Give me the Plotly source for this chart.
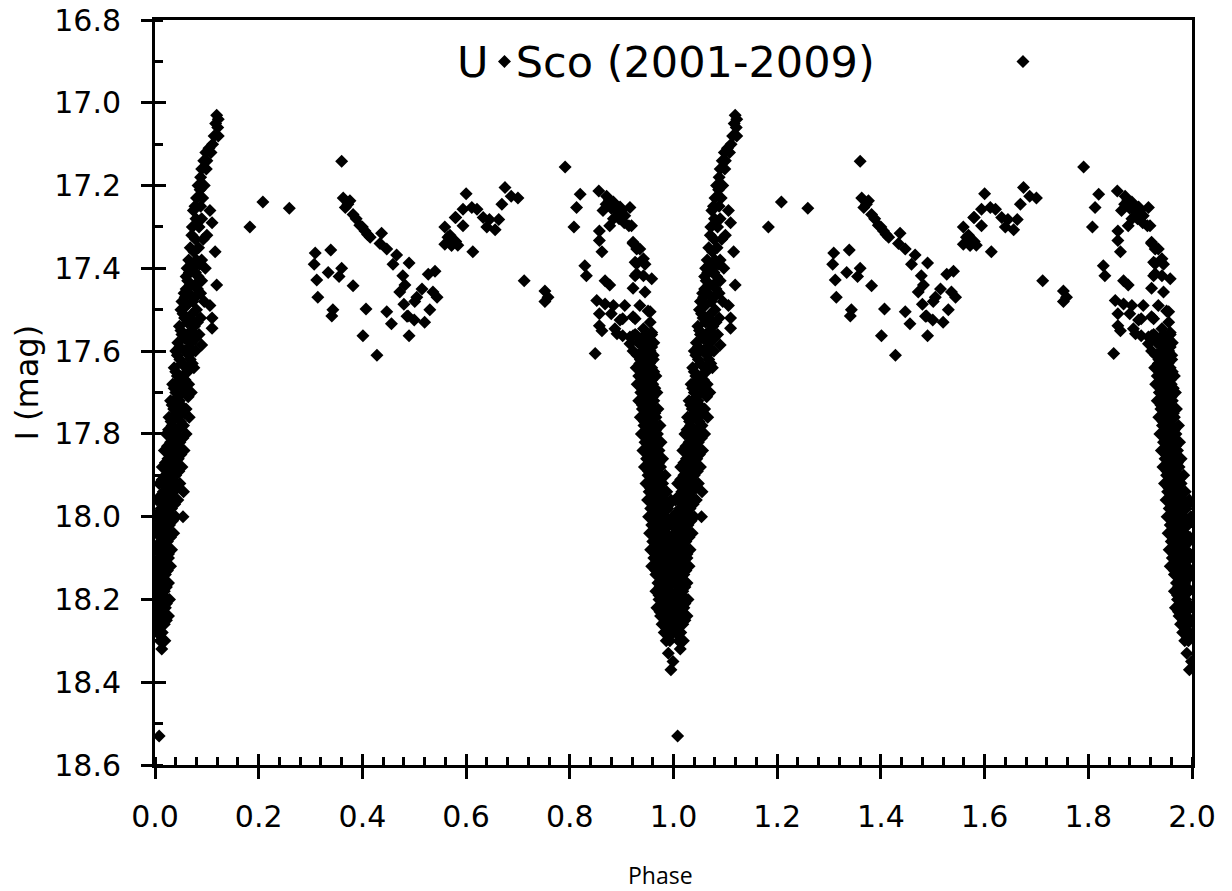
import plotly.graph_objects as go

# U Sco I-band light curve, folded on the orbital period (phase, I mag).
# Each group lists one stretch of the curve for phases 0-1; the second
# cycle (phase 1-2) repeats the same measurements.

rise = [  # egress: brightening from minimum to the peak near phase 0.12
    (0.119, 17.03), (0.122, 17.04), (0.117, 17.05), (0.121, 17.06), (0.122, 17.08), (0.114, 17.08),
    (0.111, 17.10), (0.104, 17.11), (0.098, 17.12), (0.108, 17.12), (0.100, 17.14), (0.094, 17.14),
    (0.090, 17.16), (0.099, 17.16), (0.088, 17.18), (0.083, 17.20), (0.095, 17.20), (0.087, 17.21),
    (0.080, 17.23), (0.092, 17.23), (0.077, 17.25), (0.088, 17.25), (0.074, 17.26), (0.106, 17.26),
    (0.090, 17.28), (0.079, 17.28), (0.110, 17.29), (0.072, 17.30), (0.085, 17.30), (0.071, 17.32),
    (0.100, 17.32), (0.078, 17.33), (0.093, 17.33), (0.068, 17.35), (0.084, 17.35), (0.116, 17.36),
    (0.075, 17.36), (0.065, 17.38), (0.090, 17.38), (0.080, 17.38), (0.062, 17.40), (0.072, 17.40),
    (0.097, 17.40), (0.060, 17.42), (0.083, 17.42), (0.119, 17.44), (0.068, 17.44), (0.077, 17.44),
    (0.056, 17.46), (0.088, 17.46), (0.066, 17.46), (0.052, 17.48), (0.073, 17.48), (0.095, 17.48),
    (0.106, 17.49), (0.061, 17.49), (0.050, 17.50), (0.080, 17.50), (0.110, 17.52), (0.057, 17.52),
    (0.068, 17.52), (0.088, 17.52), (0.047, 17.54), (0.076, 17.54), (0.110, 17.545), (0.052, 17.56),
    (0.064, 17.56), (0.085, 17.56), (0.044, 17.58), (0.090, 17.585), (0.070, 17.58), (0.040, 17.60),
    (0.058, 17.60), (0.078, 17.60), (0.048, 17.62), (0.068, 17.62), (0.037, 17.64), (0.060, 17.64),
    (0.075, 17.64), (0.043, 17.66), (0.053, 17.66), (0.034, 17.68), (0.065, 17.68), (0.050, 17.68),
    (0.040, 17.70), (0.058, 17.70), (0.070, 17.70), (0.030, 17.72), (0.047, 17.72), (0.036, 17.74),
    (0.060, 17.74), (0.052, 17.74), (0.027, 17.76), (0.043, 17.76), (0.066, 17.76), (0.033, 17.78),
    (0.055, 17.78), (0.022, 17.80), (0.040, 17.80), (0.060, 17.80), (0.030, 17.82), (0.048, 17.82),
    (0.018, 17.84), (0.038, 17.84), (0.056, 17.84), (0.025, 17.86), (0.045, 17.86), (0.014, 17.88),
    (0.033, 17.88), (0.052, 17.88), (0.020, 17.90), (0.040, 17.90), (0.008, 17.92), (0.028, 17.92),
    (0.048, 17.92), (0.016, 17.94), (0.036, 17.94), (0.055, 17.94), (0.004, 17.96), (0.024, 17.96),
    (0.044, 17.96), (0.012, 17.98), (0.032, 17.98), (0.001, 18.00), (0.020, 18.00), (0.040, 18.00),
    (0.054, 18.00), (0.008, 18.02), (0.028, 18.02), (0.003, 18.04), (0.016, 18.04), (0.036, 18.04),
    (0.010, 18.06), (0.024, 18.06), (0.002, 18.08), (0.018, 18.08), (0.032, 18.08), (0.007, 18.10),
    (0.026, 18.10), (0.001, 18.12), (0.014, 18.12), (0.030, 18.12), (0.006, 18.14), (0.020, 18.14),
    (0.002, 18.16), (0.012, 18.16), (0.026, 18.16), (0.008, 18.18), (0.018, 18.18), (0.001, 18.20),
    (0.014, 18.20), (0.028, 18.20), (0.006, 18.22), (0.020, 18.22), (0.002, 18.24), (0.012, 18.24),
    (0.026, 18.24), (0.008, 18.26), (0.018, 18.26), (0.004, 18.28), (0.014, 18.28), (0.010, 18.30),
    (0.019, 18.30), (0.013, 18.32),
    (0.070, 17.39), (0.086, 17.39), (0.066, 17.41), (0.078, 17.41), (0.063, 17.43), (0.090, 17.43),
    (0.060, 17.45), (0.082, 17.45), (0.058, 17.47), (0.078, 17.47), (0.054, 17.51), (0.072, 17.51),
    (0.062, 17.53), (0.082, 17.53), (0.050, 17.55), (0.070, 17.55), (0.058, 17.57), (0.078, 17.57),
    (0.048, 17.59), (0.066, 17.59), (0.043, 17.61), (0.065, 17.61), (0.052, 17.63), (0.072, 17.63),
    (0.040, 17.65), (0.063, 17.65), (0.046, 17.67), (0.058, 17.67), (0.037, 17.69), (0.055, 17.69),
    (0.044, 17.71), (0.064, 17.71), (0.033, 17.73), (0.050, 17.73), (0.040, 17.75), (0.057, 17.75),
    (0.031, 17.77), (0.049, 17.77), (0.026, 17.79), (0.045, 17.79), (0.035, 17.81), (0.054, 17.81),
    (0.024, 17.83), (0.043, 17.83), (0.031, 17.85), (0.050, 17.85), (0.020, 17.87), (0.040, 17.87),
    (0.026, 17.89), (0.046, 17.89), (0.014, 17.91), (0.034, 17.91), (0.022, 17.93), (0.042, 17.93),
    (0.010, 17.95), (0.030, 17.95), (0.018, 17.97), (0.038, 17.97), (0.006, 17.99), (0.026, 17.99),
    (0.014, 18.01), (0.034, 18.01), (0.004, 18.03), (0.022, 18.03), (0.012, 18.05), (0.030, 18.05),
    (0.005, 18.07), (0.020, 18.07), (0.012, 18.09), (0.026, 18.09), (0.004, 18.11), (0.020, 18.11),
    (0.010, 18.13), (0.024, 18.13), (0.004, 18.15), (0.016, 18.15), (0.010, 18.17), (0.022, 18.17),
    (0.004, 18.19), (0.016, 18.19), (0.010, 18.21), (0.022, 18.21), (0.004, 18.23), (0.016, 18.23),
    (0.010, 18.25), (0.022, 18.25), (0.006, 18.27),
]

fall = [  # ingress: fading into primary eclipse
    (0.926, 17.56), (0.945, 17.56), (0.958, 17.56), (0.932, 17.58), (0.950, 17.58), (0.962, 17.58),
    (0.922, 17.60), (0.940, 17.60), (0.955, 17.60), (0.936, 17.62), (0.961, 17.62), (0.928, 17.64),
    (0.947, 17.64), (0.958, 17.64), (0.933, 17.66), (0.952, 17.66), (0.966, 17.66), (0.930, 17.68),
    (0.943, 17.68), (0.960, 17.68), (0.937, 17.70), (0.955, 17.70), (0.968, 17.70), (0.933, 17.72),
    (0.948, 17.72), (0.962, 17.72), (0.940, 17.74), (0.958, 17.74), (0.970, 17.74), (0.936, 17.76),
    (0.952, 17.76), (0.966, 17.76), (0.943, 17.78), (0.960, 17.78), (0.974, 17.78), (0.938, 17.80),
    (0.955, 17.80), (0.969, 17.80), (0.945, 17.82), (0.962, 17.82), (0.976, 17.82), (0.941, 17.84),
    (0.957, 17.84), (0.972, 17.84), (0.948, 17.86), (0.965, 17.86), (0.979, 17.86), (0.944, 17.88),
    (0.960, 17.88), (0.975, 17.88), (0.951, 17.90), (0.968, 17.90), (0.984, 17.90), (0.947, 17.92),
    (0.963, 17.92), (0.979, 17.92), (0.953, 17.94), (0.970, 17.94), (0.987, 17.94), (0.950, 17.96),
    (0.966, 17.96), (0.982, 17.96), (0.995, 17.96), (0.956, 17.98), (0.973, 17.98), (0.989, 17.98),
    (0.952, 18.00), (0.968, 18.00), (0.984, 18.00), (0.998, 18.00), (0.958, 18.02), (0.975, 18.02),
    (0.992, 18.02), (0.954, 18.04), (0.970, 18.04), (0.986, 18.04), (0.960, 18.06), (0.978, 18.06),
    (0.994, 18.06), (0.956, 18.08), (0.972, 18.08), (0.988, 18.08), (0.962, 18.10), (0.980, 18.10),
    (0.996, 18.10), (0.958, 18.12), (0.975, 18.12), (0.990, 18.12), (0.966, 18.14), (0.983, 18.14),
    (0.998, 18.14), (0.970, 18.16), (0.986, 18.16), (0.966, 18.18), (0.979, 18.18), (0.994, 18.18),
    (0.972, 18.20), (0.988, 18.20), (0.968, 18.22), (0.982, 18.22), (0.997, 18.22), (0.975, 18.24),
    (0.990, 18.24), (0.978, 18.26), (0.993, 18.26), (0.982, 18.28), (0.996, 18.28), (0.986, 18.30),
    (0.993, 18.30), (0.990, 18.33), (0.999, 18.35), (0.995, 18.37),
    (0.938, 17.57), (0.954, 17.57), (0.944, 17.59), (0.958, 17.59), (0.930, 17.61), (0.948, 17.61),
    (0.942, 17.63), (0.954, 17.63), (0.938, 17.65), (0.962, 17.65), (0.940, 17.67), (0.958, 17.67),
    (0.950, 17.69), (0.964, 17.69), (0.944, 17.71), (0.960, 17.71), (0.940, 17.73), (0.955, 17.73),
    (0.947, 17.75), (0.964, 17.75), (0.944, 17.77), (0.958, 17.77), (0.950, 17.79), (0.966, 17.79),
    (0.948, 17.81), (0.962, 17.81), (0.952, 17.83), (0.968, 17.83), (0.950, 17.85), (0.964, 17.85),
    (0.955, 17.87), (0.972, 17.87), (0.952, 17.89), (0.968, 17.89), (0.958, 17.91), (0.975, 17.91),
    (0.955, 17.93), (0.972, 17.93), (0.962, 17.95), (0.978, 17.95), (0.960, 17.97), (0.980, 17.97),
    (0.992, 17.97), (0.963, 17.99), (0.980, 17.99), (0.962, 18.01), (0.980, 18.01), (0.995, 18.01),
    (0.965, 18.03), (0.983, 18.03), (0.964, 18.05), (0.980, 18.05), (0.996, 18.05), (0.968, 18.07),
    (0.986, 18.07), (0.965, 18.09), (0.982, 18.09), (0.996, 18.09), (0.970, 18.11), (0.986, 18.11),
    (0.966, 18.13), (0.982, 18.13), (0.996, 18.13), (0.976, 18.15), (0.992, 18.15), (0.974, 18.17),
    (0.990, 18.17), (0.972, 18.19), (0.986, 18.19), (0.978, 18.21), (0.993, 18.21), (0.974, 18.23),
    (0.988, 18.23), (0.984, 18.25), (0.997, 18.25), (0.987, 18.27), (0.991, 18.29),
]

loop = [  # scatter before ingress, phases 0.80-0.96
    (0.820, 17.221), (0.813, 17.253), (0.808, 17.300), (0.856, 17.213), (0.871, 17.226),
    (0.884, 17.240), (0.897, 17.252), (0.893, 17.265), (0.906, 17.273), (0.884, 17.280),
    (0.864, 17.260), (0.877, 17.297), (0.914, 17.297), (0.857, 17.310), (0.857, 17.333),
    (0.862, 17.360), (0.922, 17.337), (0.929, 17.353), (0.929, 17.389), (0.926, 17.418),
    (0.829, 17.394), (0.832, 17.418), (0.868, 17.430), (0.877, 17.440), (0.922, 17.448),
    (0.852, 17.478), (0.868, 17.486), (0.884, 17.490), (0.906, 17.490), (0.857, 17.510),
    (0.880, 17.510), (0.902, 17.522), (0.922, 17.517), (0.857, 17.539), (0.862, 17.551),
    (0.887, 17.546), (0.902, 17.563), (0.922, 17.563), (0.916, 17.582), (0.916, 17.253),
    (0.919, 17.297), (0.922, 17.340), (0.935, 17.353), (0.926, 17.385), (0.942, 17.377),
    (0.945, 17.390), (0.929, 17.413), (0.942, 17.418), (0.958, 17.425), (0.945, 17.457),
    (0.935, 17.490), (0.951, 17.503), (0.926, 17.522), (0.955, 17.530), (0.942, 17.546),
    (0.958, 17.555), (0.929, 17.563), (0.945, 17.577), (0.849, 17.606), (0.955, 17.505),
    (0.897, 17.525), (0.891, 17.558), (0.916, 17.566), (0.939, 17.574), (0.961, 17.610),
    (0.935, 17.630), (0.876, 17.235), (0.890, 17.250), (0.880, 17.255), (0.900, 17.260),
    (0.870, 17.245), (0.895, 17.280), (0.905, 17.290),
]

hump = [  # out-of-eclipse plateau, phases 0.18-0.72
    (0.183, 17.300), (0.208, 17.240), (0.259, 17.255), (0.360, 17.141), (0.363, 17.230),
    (0.376, 17.237), (0.367, 17.253), (0.372, 17.245), (0.382, 17.270), (0.388, 17.280),
    (0.395, 17.296), (0.400, 17.300), (0.405, 17.310), (0.410, 17.318), (0.415, 17.325),
    (0.437, 17.315), (0.434, 17.340), (0.447, 17.353), (0.466, 17.368), (0.459, 17.390),
    (0.490, 17.387), (0.309, 17.363), (0.339, 17.356), (0.307, 17.390), (0.334, 17.410),
    (0.360, 17.400), (0.355, 17.420), (0.312, 17.428), (0.382, 17.442), (0.314, 17.470),
    (0.343, 17.500), (0.341, 17.515), (0.407, 17.498), (0.447, 17.505), (0.401, 17.563),
    (0.428, 17.610), (0.478, 17.418), (0.482, 17.440), (0.472, 17.457), (0.515, 17.450),
    (0.505, 17.470), (0.527, 17.414), (0.540, 17.407), (0.536, 17.457), (0.544, 17.470),
    (0.480, 17.487), (0.501, 17.480), (0.486, 17.516), (0.456, 17.534), (0.488, 17.515),
    (0.500, 17.525), (0.490, 17.563), (0.520, 17.530), (0.530, 17.500),
    (0.600, 17.220), (0.594, 17.257), (0.611, 17.253), (0.621, 17.257), (0.580, 17.277),
    (0.594, 17.297), (0.559, 17.300), (0.569, 17.320), (0.580, 17.335), (0.559, 17.342),
    (0.572, 17.345), (0.613, 17.360), (0.675, 17.205), (0.687, 17.226), (0.700, 17.230),
    (0.669, 17.245), (0.633, 17.277), (0.645, 17.282), (0.663, 17.282), (0.640, 17.300),
    (0.656, 17.307), (0.579, 17.277), (0.565, 17.325), (0.575, 17.337), (0.584, 17.344),
]

stray = [  # isolated measurements
    (0.674, 16.900), (0.712, 17.430), (0.752, 17.455), (0.758, 17.470), (0.752, 17.480),
    (0.791, 17.155), (0.008, 18.530),
]

groups = [rise, fall, loop, hump, stray]
phase = [p for g in groups for p, _ in g]
mag = [m for g in groups for _, m in g]

# two cycles: the folded data shown at phase and phase + 1
x_all = phase + [p + 1 for p in phase]
y_all = mag + mag

TICK_FONT = dict(family="DejaVu Sans", size=30, color="black")

fig = go.Figure()
fig.add_trace(go.Scatter(
    x=x_all, y=y_all, mode="markers",
    marker=dict(symbol="diamond", size=10, color="black", line=dict(width=0)),
    showlegend=False, hoverinfo="skip",
))
# empty trace that carries the overlay axes (inner half of the major ticks)
fig.add_trace(go.Scatter(x=[None], y=[None], xaxis="x2", yaxis="y2",
                         showlegend=False, hoverinfo="skip"))

axis_common = dict(showgrid=False, zeroline=False, linecolor="black", linewidth=3,
                   ticks="outside", ticklen=11, tickwidth=3, tickcolor="black",
                   tickfont=TICK_FONT, tickformat=".1f", mirror=True, automargin=False)

overlay_common = dict(ticks="inside", ticklen=11, tickwidth=3, tickcolor="black",
                      showticklabels=False, showgrid=False, zeroline=False,
                      showline=False, automargin=False)

fig.update_layout(
    width=1232, height=891, autosize=False,
    margin=dict(l=155, r=40, t=20, b=126),
    paper_bgcolor="white", plot_bgcolor="white",
    xaxis=dict(range=[0, 2], dtick=0.2, tick0=0, ticklabelstandoff=12,
               minor=dict(dtick=0.04, tick0=0, ticks="inside", ticklen=8,
                          tickwidth=3, tickcolor="black"),
               **axis_common),
    yaxis=dict(range=[18.6, 16.8], dtick=0.2, tick0=16.8, ticklabelstandoff=14,
               minor=dict(dtick=0.1, tick0=16.8, ticks="inside", ticklen=8,
                          tickwidth=3, tickcolor="black"),
               **axis_common),
    xaxis2=dict(overlaying="x", matches="x", range=[0, 2], dtick=0.2, tick0=0,
                side="bottom", **overlay_common),
    yaxis2=dict(overlaying="y", matches="y", range=[18.6, 16.8], dtick=0.2, tick0=16.8,
                side="left", **overlay_common),
    annotations=[
        dict(text="U\u00a0\u00a0Sco (2001-2009)", xref="paper", yref="paper",
             x=(455 - 155) / 1037, y=0.9436,
             showarrow=False, xanchor="left", yanchor="middle",
             font=dict(family="DejaVu Sans", size=43, color="black")),
        dict(text="I (mag)", xref="paper", yref="paper", x=-0.123, y=0.514,
             showarrow=False, textangle=-90, xanchor="center", yanchor="middle",
             font=dict(family="DejaVu Sans", size=32, color="black")),
        dict(text="Phase", xref="paper", yref="paper", x=0.487, y=-0.148,
             showarrow=False, xanchor="center", yanchor="middle",
             font=dict(family="Open Sans", size=23, color="black")),
    ],
)

fig.write_html("out.html")
